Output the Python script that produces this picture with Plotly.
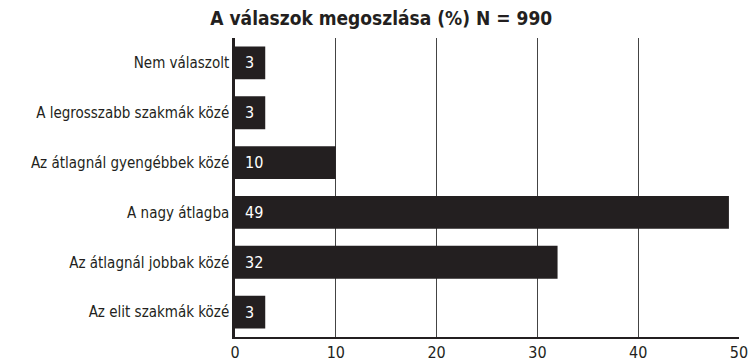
import plotly.graph_objects as go

categories = [
    "Nem válaszolt",
    "A legrosszabb szakmák közé",
    "Az átlagnál gyengébbek közé",
    "A nagy átlagba",
    "Az átlagnál jobbak közé",
    "Az elit szakmák közé",
]
values = [3, 3, 10, 49, 32, 3]
x_ticks = [0, 10, 20, 30, 40, 50]

FONT = "DejaVu Sans Condensed, Liberation Sans Narrow, Arial Narrow, sans-serif"
BAR = "#231f20"

fig = go.Figure(
    go.Bar(
        x=values,
        y=categories,
        orientation="h",
        marker=dict(color=BAR, line=dict(width=0)),
        width=0.66,
        hoverinfo="x+y",
    )
)

# value labels placed just inside the left end of each bar
for cat, v in zip(categories, values):
    fig.add_annotation(
        x=0, y=cat, text=str(v), showarrow=False,
        xanchor="left", xshift=8,
        font=dict(family=FONT, size=16, color="white"),
    )

fig.update_layout(
    width=749, height=361,
    margin=dict(l=235, r=10, t=38, b=24),
    paper_bgcolor="white", plot_bgcolor="white",
    showlegend=False,
    title=dict(
        text="<b>A válaszok megoszlása (%) N = 990</b>",
        x=0.509, xanchor="center", xref="container",
        y=0.95, yanchor="middle",
        font=dict(family=FONT, size=19, color="#231f20"),
    ),
    font=dict(family=FONT, size=15, color="#231f20"),
)
fig.update_xaxes(
    range=[0, 50], tickvals=x_ticks, ticktext=[str(t) for t in x_ticks],
    showgrid=True, gridcolor="#444444", gridwidth=1,
    showline=True, linecolor="#231f20", linewidth=2,
    zeroline=False, ticks="", tickfont=dict(size=16),
    automargin=False, fixedrange=True,
)
fig.update_yaxes(
    categoryorder="array", categoryarray=categories[::-1],
    showgrid=False, showline=True, linecolor="#231f20", linewidth=2.5,
    ticks="", ticklabelstandoff=0, tickfont=dict(size=15),
    automargin=False, fixedrange=True,
)

fig.write_html("out.html")
